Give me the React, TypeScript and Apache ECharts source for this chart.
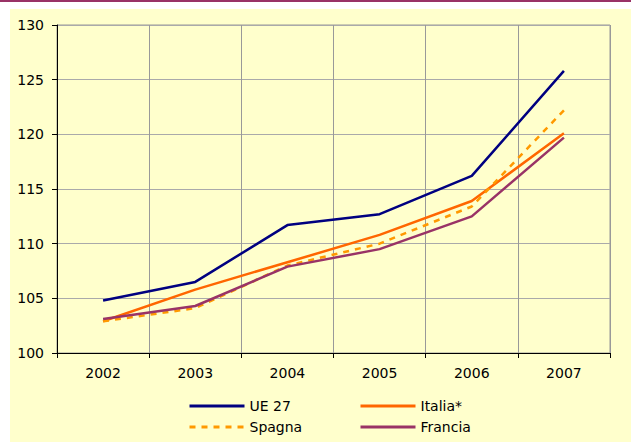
import React, { useEffect, useRef } from "react";
import * as echarts from "echarts";

const years = ["2002", "2003", "2004", "2005", "2006", "2007"];
const ue27 = [104.8, 106.5, 111.7, 112.7, 116.2, 125.8];
const italia = [102.9, 105.8, 108.3, 110.8, 113.9, 120.1];
const spagna = [102.9, 104.1, 108.0, 110.0, 113.4, 122.2];
const francia = [103.1, 104.3, 107.9, 109.5, 112.5, 119.7];

const FONT = "DejaVu Sans";

export default function App() {
  const ref = useRef<HTMLDivElement>(null);
  useEffect(() => {
    document.body.style.margin = "0";
    const chart = echarts.init(ref.current!, null, { renderer: "svg" });
    const legendBase = {
      orient: "horizontal",
      padding: 0,
      itemWidth: 55,
      itemHeight: 14,
      itemGap: 4,
      itemStyle: { opacity: 0 },
      lineStyle: { width: 3 },
      textStyle: { fontFamily: FONT, fontSize: 14, color: "#000" },
    };
    chart.setOption({
      animation: false,
      backgroundColor: "#ffffff",
      graphic: [
        { type: "rect", z: -10, shape: { x: 0, y: 0, width: 631, height: 2 }, style: { fill: "#993366" } },
        { type: "rect", z: -10, shape: { x: 10, y: 9, width: 621, height: 433 }, style: { fill: "#FFFFCC" } },
      ],
      grid: {
        left: 57,
        right: 21,
        top: 25,
        bottom: 89,
        show: true,
        borderColor: "#999999",
        borderWidth: 1,
        backgroundColor: "transparent",
      },
      legend: [
        { ...legendBase, left: 188, top: 399, data: ["UE 27"] },
        { ...legendBase, left: 359, top: 399, data: ["Italia*"] },
        { ...legendBase, left: 188, top: 420, data: ["Spagna"] },
        { ...legendBase, left: 359, top: 420, data: ["Francia"] },
      ],
      xAxis: {
        type: "category",
        data: years,
        boundaryGap: true,
        axisLine: { show: true, lineStyle: { color: "#000", width: 1 } },
        axisTick: { show: true, length: 5, lineStyle: { color: "#000" } },
        axisLabel: { fontFamily: FONT, fontSize: 14, color: "#000", margin: 13 },
        splitLine: { show: true, lineStyle: { color: "#999999", width: 1 } },
      },
      yAxis: {
        type: "value",
        min: 100,
        max: 130,
        interval: 5,
        axisLine: { show: true, lineStyle: { color: "#000", width: 1 } },
        axisTick: { show: true, length: 5, lineStyle: { color: "#000" } },
        axisLabel: { fontFamily: FONT, fontSize: 14, color: "#000", margin: 13 },
        splitLine: { show: true, lineStyle: { color: "#aaaaaa", width: 1 } },
      },
      series: [
        { name: "UE 27", type: "line", data: ue27, symbol: "none", lineStyle: { color: "#000080", width: 2.5 }, itemStyle: { color: "#000080" } },
        { name: "Italia*", type: "line", data: italia, symbol: "none", lineStyle: { color: "#FF6600", width: 2.5 }, itemStyle: { color: "#FF6600" } },
        { name: "Spagna", type: "line", data: spagna, symbol: "none", lineStyle: { color: "#FF9900", width: 2.5, type: [6, 6] }, itemStyle: { color: "#FF9900" } },
        { name: "Francia", type: "line", data: francia, symbol: "none", lineStyle: { color: "#993366", width: 2.5 }, itemStyle: { color: "#993366" } },
      ],
    });
    return () => chart.dispose();
  }, []);
  return <div ref={ref} style={{ width: 631, height: 442 }} />;
}
